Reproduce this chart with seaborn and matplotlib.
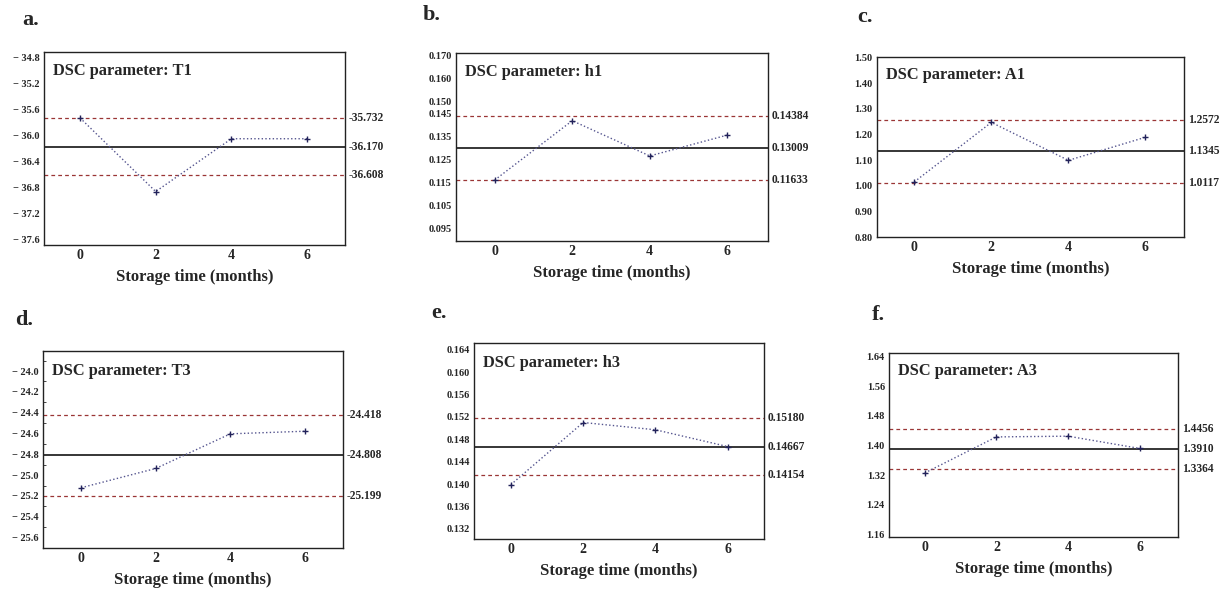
import numpy as np
import matplotlib
matplotlib.use("Agg")
import matplotlib.pyplot as plt
import seaborn as sns

# storage time (months)
months = [0, 2, 4, 6]

# DSC parameters
t1 = [-35.73, -36.86, -36.05, -36.05]
h1 = [0.1161, 0.1417, 0.1265, 0.1355]
a1 = [1.015, 1.247, 1.099, 1.189]
t3 = [-25.121, -24.936, -24.603, -24.578]
h3 = [0.1399, 0.1510, 0.1497, 0.1467]
a3 = [1.326, 1.423, 1.425, 1.392]

# control limits: (upper, centre, lower)
t1_lim = [-35.732, -36.170, -36.608]
h1_lim = [0.14384, 0.13009, 0.11633]
a1_lim = [1.2572, 1.1345, 1.0117]
t3_lim = [-24.418, -24.808, -25.199]
h3_lim = [0.15180, 0.14667, 0.14154]
a3_lim = [1.4456, 1.3910, 1.3364]

lim_labels = {
    'T1': ['-35.732', '-36.170', '-36.608'],
    'h1': ['0.14384', '0.13009', '0.11633'],
    'A1': ['1.2572', '1.1345', '1.0117'],
    'T3': ['-24.418', '-24.808', '-25.199'],
    'h3': ['0.15180', '0.14667', '0.14154'],
    'A3': ['1.4456', '1.3910', '1.3364'],
}

# y ticks
t1_ticks = [-34.8, -35.2, -35.6, -36.0, -36.4, -36.8, -37.2, -37.6]
h1_ticks = [0.170, 0.160, 0.150, 0.145, 0.135, 0.125, 0.115, 0.105, 0.095]
a1_ticks = [0.80, 0.90, 1.00, 1.10, 1.20, 1.30, 1.40, 1.50]
t3_ticks = [-24.0, -24.2, -24.4, -24.6, -24.8, -25.0, -25.2, -25.4, -25.6]
h3_ticks = [0.132, 0.136, 0.140, 0.144, 0.148, 0.152, 0.156, 0.160, 0.164]
a3_ticks = [1.16, 1.24, 1.32, 1.40, 1.48, 1.56, 1.64]

sns.set_style("white")
plt.rcParams['font.family'] = ['Liberation Serif', 'DejaVu Serif']

fig = plt.figure(figsize=(12.26, 5.89), dpi=100)

panels = [
    # name, letter, values, limits, ticks, fmt, ylim, rect, letter pos (baseline), xlim
    ('T1', 'a.', t1, t1_lim, t1_ticks, '{:.1f}', (-37.68, -34.72), [0.0359, 0.584, 0.2455, 0.3277], (0.018, 0.958), (-0.95, 7.0)),
    ('h1', 'b.', h1, h1_lim, h1_ticks, '{:.3f}', (0.0898, 0.1709), [0.3719, 0.5908, 0.2545, 0.3192], (0.345, 0.966), (-1.0, 7.05)),
    ('A1', 'c.', a1, a1_lim, a1_ticks, '{:.2f}', (0.80, 1.502), [0.7153, 0.5976, 0.2504, 0.3056], (0.699, 0.963), (-0.97, 7.0)),
    ('T3', 'd.', t3, t3_lim, t3_ticks, '{:.1f}', (-25.686, -23.807), [0.0351, 0.0696, 0.2447, 0.3345], (0.012, 0.448), (-1.02, 7.02)),
    ('h3', 'e.', h3, h3_lim, h3_ticks, '{:.3f}', (0.1302, 0.1652), [0.3866, 0.0849, 0.2365, 0.3328], (0.352, 0.460), (-1.02, 7.0)),
    ('A3', 'f.', a3, a3_lim, a3_ticks, '{:.2f}', (1.1535, 1.649), [0.7251, 0.0883, 0.2357, 0.3124], (0.711, 0.457), (-1.0, 7.07)),
]

for name, letter, vals, lims, ticks, fmt, ylim, rect, lpos, xlim in panels:
    ax = fig.add_axes(rect)
    sns.lineplot(x=months, y=vals, ax=ax, color='#55558f', linestyle=':',
                 linewidth=1.0, marker='+', markersize=5, markeredgewidth=1.0,
                 markeredgecolor='#22225a', zorder=3)
    ax.axhline(lims[0], color='#9a3535', linestyle=(0, (3, 2.5)), linewidth=0.9)
    ax.axhline(lims[1], color='black', linewidth=1.1)
    ax.axhline(lims[2], color='#9a3535', linestyle=(0, (3, 2.5)), linewidth=0.9)
    for v, s in zip(lims, lim_labels[name]):
        ax.text(1.013, v, s, transform=ax.get_yaxis_transform(), va='center',
                ha='left', fontsize=8.3, fontweight='bold')
    ax.set_xlim(*xlim)
    ax.set_ylim(*ylim)
    ax.set_xticks(months)
    ax.set_xticklabels([str(m) for m in months], fontsize=10, fontweight='bold')
    ax.set_yticks(ticks)
    labels = [fmt.format(t).replace('-', '\u2212 ') for t in ticks]
    ax.set_yticklabels(labels, fontsize=7.5, fontweight='bold')
    ax.tick_params(axis='y', length=0, pad=3)
    ax.tick_params(axis='x', length=0, pad=3)
    if name == 'T3':
        ax.set_yticks(np.arange(-25.7, -23.8, 0.1), minor=True)
        ax.tick_params(axis='y', which='minor', direction='in', length=2, width=0.6, left=True)
    ax.set_xlabel('Storage time (months)', fontsize=12, fontweight='bold', labelpad=5)
    ax.set_ylabel('')
    for sp in ax.spines.values():
        sp.set_visible(True)
        sp.set_color('#222222')
        sp.set_linewidth(1.0)
    ax.text(0.03, 0.9, 'DSC parameter: ' + name, transform=ax.transAxes,
            fontsize=11.8, fontweight='bold', va='center', ha='left')
    fig.text(lpos[0], lpos[1], letter, fontsize=16, fontweight='bold', va='baseline', ha='left')

fig.savefig('out.png', dpi=100)
